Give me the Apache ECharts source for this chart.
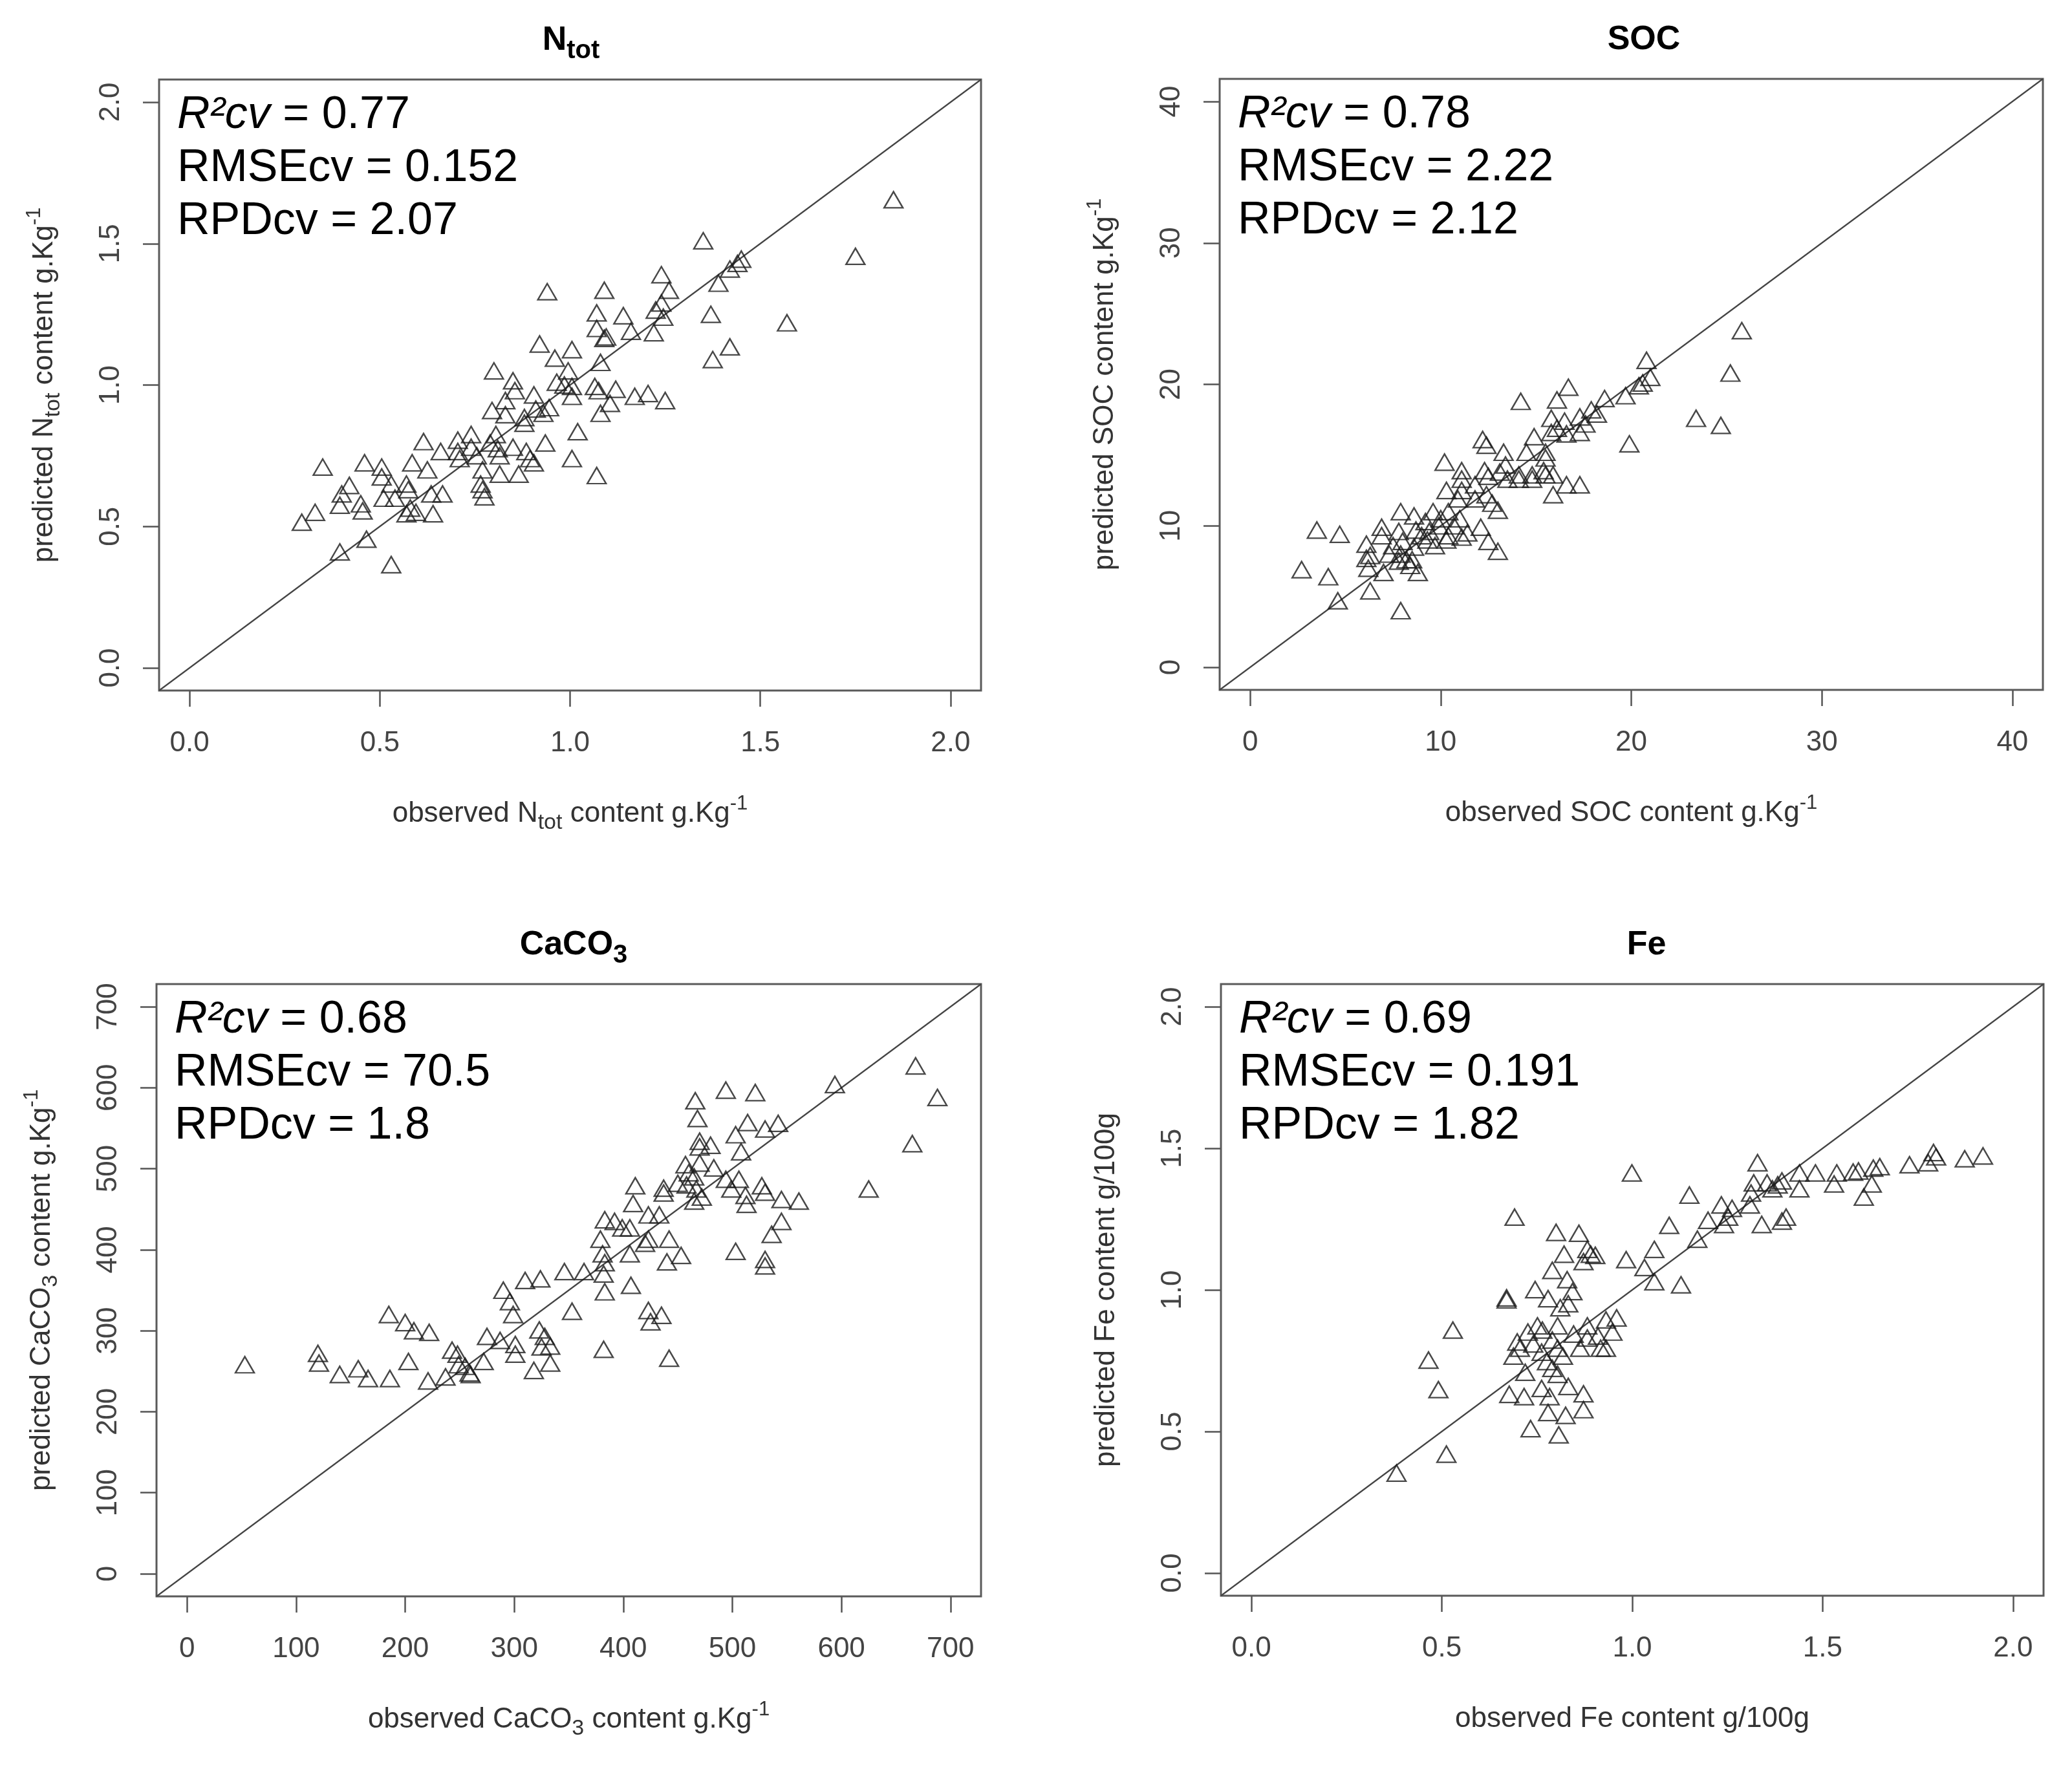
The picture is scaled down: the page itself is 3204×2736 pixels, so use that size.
<!DOCTYPE html>
<html>
<head>
<meta charset="utf-8">
<script src="https://cdn.jsdelivr.net/npm/echarts@6/dist/echarts.min.js"></script>
<style>
html, body { margin: 0; padding: 0; background: #fff; }
#chart { width: 3204px; height: 2736px; }
</style>
</head>
<body>
<div id="chart"></div>
<script>
// ---- data ----
var ntotObserved = [1.85,1.35,1.75,1.45,1.42,1.44,1.39,1.24,1.26,1.09,0.94,1.24,1.225,1.07,1.14,1.245,1.37,1.57,1.07,1.16,1.22,1.095,1.09,0.92,1.005,1.42,1.375,0.96,1.08,0.80,0.995,0.85,0.965,0.985,0.855,1.005,1.065,1.075,1.12,1.17,1.205,1.25,0.905,1.005,1.105,0.83,0.795,0.945,0.91,0.83,0.88,0.93,1.08,1.02,0.88,0.805,0.74,0.705,0.615,0.66,0.705,0.74,0.79,0.81,0.85,0.885,0.935,0.815,0.755,0.71,0.895,0.905,1.005,0.585,0.46,0.35,0.505,0.625,0.77,0.815,0.865,1.07,0.505,0.53,0.42,0.57,0.575,0.765,0.77,0.40,0.635,0.665,0.51,0.54,0.775,0.45,0.395,0.455,0.58,0.595,0.57,0.64,0.33,0.295,0.465,0.395,0.53];
var ntotPredicted = [1.655,1.51,1.455,1.445,1.41,1.43,1.36,1.39,1.335,1.335,1.33,1.29,1.265,1.255,1.245,1.24,1.25,1.22,1.20,1.19,1.185,1.17,1.165,1.145,1.125,1.135,1.09,1.095,1.08,1.05,1.05,1.015,1.01,1.0,0.98,0.995,0.995,0.98,0.985,0.96,0.97,0.945,0.965,0.96,0.935,0.945,0.91,0.92,0.915,0.895,0.885,0.90,0.90,0.835,0.865,0.825,0.825,0.805,0.80,0.765,0.765,0.78,0.795,0.775,0.78,0.765,0.795,0.75,0.75,0.74,0.74,0.725,0.74,0.725,0.725,0.71,0.71,0.70,0.70,0.685,0.685,0.68,0.675,0.65,0.645,0.65,0.63,0.65,0.63,0.615,0.615,0.615,0.60,0.60,0.605,0.58,0.575,0.555,0.565,0.55,0.545,0.545,0.55,0.515,0.455,0.41,0.365];

var socObserved = [25.8,25.2,20.8,21.0,20.6,23.4,24.7,16.7,16.1,14.2,18.6,19.7,17.9,17.3,16.5,15.8,16.1,17.3,14.9,19.9,15.8,16.6,12.2,12.4,13.3,15.5,15.5,10.2,11.1,12.3,13.4,13.1,13.5,14.1,14.8,15.5,16.6,17.3,15.9,10.3,11.1,11.8,12.4,11.8,12.7,13.0,10.9,7.9,8.6,9.6,10.4,11.0,9.2,9.9,10.7,12.1,11.4,10.4,9.4,8.7,7.8,6.9,6.1,12.5,13.0,3.5,4.7,2.7,4.1,4.6,6.3,7.9,6.1,6.2,7.0,7.5,7.9,8.2,8.4,8.8,8.6,9.3,9.7,10.3,11.1,10.0,9.0,8.0,7.3,7.8,8.5,15.4,14.8,14.1,15.9,17.6,18.2,20.4,14.5,11.1,12.5,6.9,6.3];
var socPredicted = [23.8,20.8,21.7,20.5,20.1,17.6,17.1,19.8,18.9,18.8,19.0,19.2,18.2,17.7,17.4,17.6,16.9,16.6,16.3,15.8,16.6,16.5,16.1,15.7,15.2,15.2,14.8,14.5,13.9,13.9,14.3,13.8,13.3,13.3,13.3,13.6,12.9,12.9,12.2,12.5,12.5,12.9,12.2,11.9,11.6,11.1,11.9,11.0,10.7,11.0,11.0,10.5,10.3,10.0,10.0,9.9,9.5,9.3,9.6,9.7,9.6,9.3,8.7,8.9,8.2,9.7,9.4,6.9,6.4,4.7,5.4,4.0,7.7,7.0,6.7,8.6,8.0,7.6,7.2,6.7,8.5,9.0,8.6,9.0,9.2,10.5,9.3,8.9,8.0,7.5,7.6,13.9,13.6,13.6,13.6,17.2,17.9,19.9,15.2,13.3,13.5,9.9,7.9];

var caco3Observed = [668,688,665,594,625,494,521,466,468,503,514,530,542,470,480,470,508,470,483,460,465,450,437,437,458,467,472,465,494,506,499,512,513,527,530,545,561,411,409,423,433,383,392,399,406,545,536,423,442,420,379,381,406,383,440,453,503,530,530,346,364,382,310,324,290,296,299,383,407,353,423,435,425,185,200,208,222,275,287,323,328,325,333,301,301,243,248,249,255,260,272,237,221,203,186,166,157,140,120,121,53,318,333,382,442,259,457];
var caco3Predicted = [627,588,531,604,475,597,594,584,562,542,557,549,556,534,529,527,521,507,501,495,490,482,476,470,480,475,465,460,487,487,475,467,456,479,471,462,460,479,457,443,443,437,435,427,427,435,419,413,413,408,413,395,395,384,385,393,398,388,380,373,373,370,362,364,350,336,320,348,356,324,325,319,311,320,310,300,298,293,288,301,293,280,281,271,283,276,271,258,256,246,262,243,238,262,241,241,253,246,272,260,258,251,260,277,266,248,505];

var feObserved = [0.381,0.512,0.491,0.465,0.529,0.691,0.999,0.800,0.860,0.821,0.882,0.891,0.903,0.872,0.790,0.829,0.745,0.843,0.779,0.811,0.832,0.670,0.670,0.726,0.764,0.804,0.698,0.740,0.790,0.846,0.882,0.931,0.959,0.948,0.910,0.882,0.863,0.917,0.804,0.762,0.688,0.818,0.776,0.790,0.719,0.804,0.677,0.716,0.762,0.783,0.832,0.872,0.779,0.825,0.872,0.733,0.807,0.984,1.032,1.058,1.058,1.128,1.097,1.150,1.171,1.199,1.241,1.252,1.262,1.309,1.340,1.393,1.404,1.329,1.319,1.312,1.354,1.393,1.439,1.439,1.481,1.530,1.537,1.580,1.594,1.633,1.650,1.629,1.608,1.728,1.777,1.791,1.798,1.873,1.921,1.382,1.234,1.368,0.705,0.751,0.931];
var fePredicted = [0.353,0.420,0.648,0.752,0.858,1.257,1.413,1.203,1.200,1.126,1.143,1.126,1.122,1.100,1.069,1.036,1.001,0.994,0.969,0.937,0.951,0.972,0.965,0.851,0.858,0.873,0.816,0.809,0.823,0.844,0.873,0.894,0.901,0.851,0.837,0.830,0.794,0.794,0.794,0.780,0.766,0.766,0.747,0.723,0.709,0.702,0.631,0.623,0.652,0.623,0.659,0.633,0.567,0.557,0.577,0.510,0.488,1.107,1.079,1.143,1.029,1.018,1.228,1.335,1.179,1.246,1.231,1.257,1.288,1.300,1.231,1.243,1.257,1.449,1.378,1.342,1.378,1.385,1.413,1.357,1.413,1.374,1.413,1.416,1.420,1.430,1.435,1.374,1.328,1.442,1.449,1.485,1.470,1.463,1.473,1.371,1.300,1.357,0.794,0.873,0.794];

// tick labels
var ntotTicks = [0, 0.5, 1, 1.5, 2];
var socTicks = [0, 10, 20, 30, 40];
var caco3Ticks = [0, 100, 200, 300, 400, 500, 600, 700];
var feTicks = [0, 0.5, 1, 1.5, 2];

// statistics printed in each panel
var r2cv = ['0.77', '0.78', '0.68', '0.69'];
var rmsecv = ['0.152', '2.22', '70.5', '0.191'];
var rpdcv = ['2.07', '2.12', '1.8', '1.82'];

var FONT = 'Liberation Sans';

var panels = [
  { obs: ntotObserved, pred: ntotPredicted, ticks: ntotTicks, dec: 1,
    title: '{m|N}{s|tot}',
    xName: '{m|observed N}{s|tot}{m| content g.Kg}{p|-1}',
    yName: '{m|predicted N}{s|tot}{m| content g.Kg}{p|-1}' },
  { obs: socObserved, pred: socPredicted, ticks: socTicks, dec: 0,
    title: '{m|SOC}',
    xName: '{m|observed SOC content g.Kg}{p|-1}',
    yName: '{m|predicted SOC content g.Kg}{p|-1}' },
  { obs: caco3Observed, pred: caco3Predicted, ticks: caco3Ticks, dec: 0,
    title: '{m|CaCO}{s|3}',
    xName: '{m|observed CaCO}{s|3}{m| content g.Kg}{p|-1}',
    yName: '{m|predicted CaCO}{s|3}{m| content g.Kg}{p|-1}' },
  { obs: feObserved, pred: fePredicted, ticks: feTicks, dec: 1,
    title: '{m|Fe}',
    xName: '{m|observed Fe content g/100g}',
    yName: '{m|predicted Fe content g/100g}' }
];

// plot boxes (pixels)
var boxes = [
  { left: 246, top: 123, width: 1271, height: 945 },
  { left: 1886, top: 122, width: 1273, height: 945 },
  { left: 242, top: 1522, width: 1275, height: 947 },
  { left: 1888, top: 1522, width: 1272, height: 946 }
];
var titleX = [883, 2542, 887, 2546];

var nameRich = {
  m: { fontSize: 44, fontFamily: FONT, color: '#333', lineHeight: 62 },
  s: { fontSize: 34, fontFamily: FONT, color: '#333', lineHeight: 34, verticalAlign: 'bottom' },
  p: { fontSize: 31, fontFamily: FONT, color: '#333', lineHeight: 31, verticalAlign: 'top' }
};

var grids = [], xAxes = [], yAxes = [], series = [], graphics = [];

panels.forEach(function (p, i) {
  var t0 = p.ticks[0], t1 = p.ticks[p.ticks.length - 1];
  var pad = (t1 - t0) * 0.04;   // R's default 4% axis extension
  var lo = t0 - pad, hi = t1 + pad;
  var fmt = function (v) { return Number(v).toFixed(p.dec); };
  var b = boxes[i];

  grids.push({ left: b.left, top: b.top, width: b.width, height: b.height,
    show: true, borderColor: '#5a5a5a', borderWidth: 3, backgroundColor: 'transparent' });

  function axis(isX) {
    return {
      type: 'value', gridIndex: i, min: lo, max: hi,
      name: isX ? p.xName : p.yName,
      nameLocation: 'middle', nameGap: isX ? 160 : 146,
      nameTextStyle: { rich: nameRich },
      axisLine: { show: false, onZero: false },
      axisTick: { show: true, length: 25, customValues: p.ticks,
        lineStyle: { color: '#555', width: 2.5 } },
      axisLabel: { customValues: p.ticks, margin: isX ? 60 : 52, rotate: isX ? 0 : 90,
        fontSize: 44, fontFamily: FONT, color: '#444', formatter: fmt },
      splitLine: { show: false }
    };
  }
  xAxes.push(axis(true));
  yAxes.push(axis(false));

  series.push({
    type: 'line', xAxisIndex: i, yAxisIndex: i, silent: true, symbol: 'none',
    data: [[lo, lo], [hi, hi]],
    lineStyle: { color: '#444', width: 2.2 }, z: 1
  });
  series.push({
    type: 'scatter', xAxisIndex: i, yAxisIndex: i,
    data: p.obs.map(function (v, k) { return [v, p.pred[k]]; }),
    symbol: 'triangle', symbolSize: [29, 25],
    itemStyle: { color: 'rgba(0,0,0,0)', borderColor: '#1a1a1a', borderWidth: 2.4 },
    z: 2
  });

  // panel title
  graphics.push({
    type: 'text', x: titleX[i], y: b.top - 60,
    style: {
      text: p.title, align: 'center', verticalAlign: 'middle',
      rich: {
        m: { fontSize: 52, fontWeight: 'bold', fontFamily: FONT, fill: '#000', lineHeight: 72 },
        s: { fontSize: 40, fontWeight: 'bold', fontFamily: FONT, fill: '#000', lineHeight: 40, verticalAlign: 'bottom' }
      }
    }
  });
  // statistics
  graphics.push({
    type: 'text', x: b.left + 28, y: b.top + 15,
    style: {
      text: '{i|R²cv}{n| = ' + r2cv[i] + '}\n{n|RMSEcv = ' + rmsecv[i] + '}\n{n|RPDcv = ' + rpdcv[i] + '}',
      align: 'left', verticalAlign: 'top',
      rich: {
        i: { fontSize: 70, fontStyle: 'italic', fontFamily: FONT, fill: '#000', lineHeight: 82 },
        n: { fontSize: 70, fontFamily: FONT, fill: '#000', lineHeight: 82 }
      }
    }
  });
});

var myChart = echarts.init(document.getElementById('chart'));
myChart.setOption({
  animation: false,
  backgroundColor: '#fff',
  grid: grids,
  xAxis: xAxes,
  yAxis: yAxes,
  series: series,
  graphic: graphics
});
</script>
</body>
</html>
